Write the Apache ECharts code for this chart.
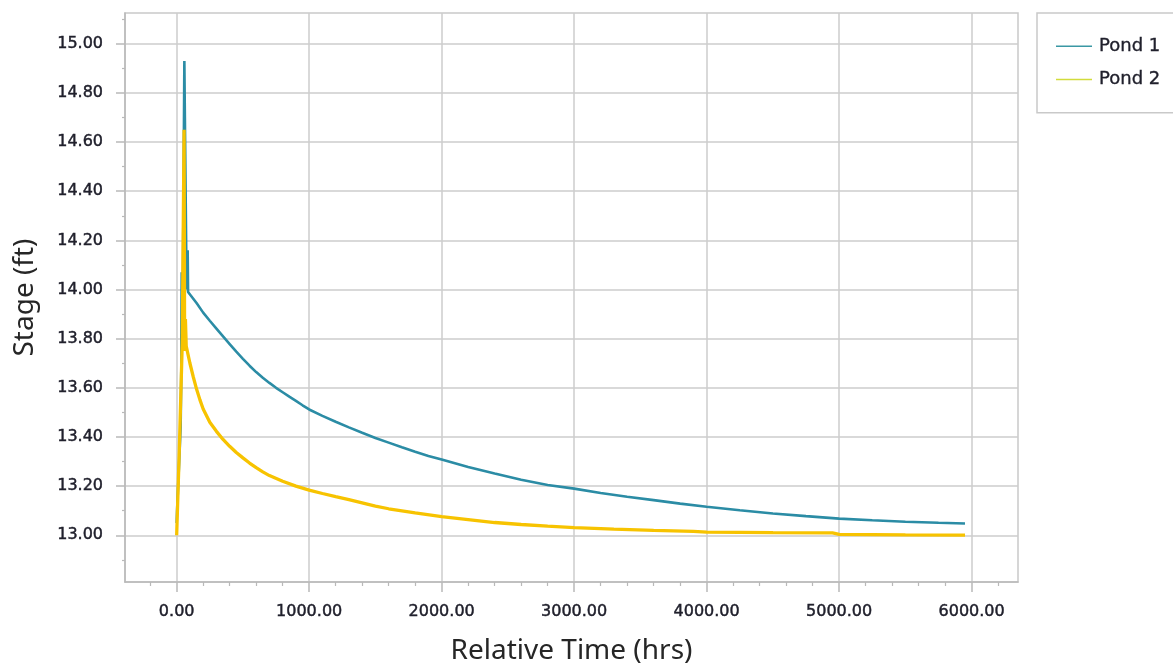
<!DOCTYPE html>
<html>
<head>
<meta charset="utf-8">
<title>Stage vs Relative Time</title>
<script src="https://cdn.jsdelivr.net/npm/echarts@6/dist/echarts.min.js"></script>
<style>
  html, body { margin: 0; padding: 0; background: #ffffff; }
  #chart { width: 1173px; height: 664px; }
</style>
</head>
<body>
<div id="chart"></div>
<script>
// Pond stage hydrographs (ft) over relative time (hrs)
const pond1Hours = [0, 3, 30, 36, 35, 38, 45, 58, 62, 75, 83, 86,
  100, 150, 200, 250, 300, 350, 400, 450, 500, 550, 600, 650, 700, 750, 800, 850, 900, 950, 1000,
  1100, 1200, 1300, 1400, 1500, 1600, 1700, 1800, 1900, 2000, 2200, 2400, 2600, 2800, 3000,
  3200, 3400, 3600, 3800, 4000, 4250, 4500, 4750, 5000, 5250, 5500, 5750, 5950];
const pond1Stage = [13.05, 13.10, 13.44, 13.73, 13.80, 14.07, 13.85, 14.93, 14.70, 14.00, 14.16, 13.99,
  13.983, 13.945, 13.906, 13.873, 13.841, 13.809, 13.778, 13.747, 13.718, 13.690, 13.664, 13.641, 13.620, 13.600, 13.582, 13.564, 13.547, 13.529, 13.512,
  13.486, 13.462, 13.439, 13.417, 13.396, 13.377, 13.358, 13.340, 13.323, 13.308, 13.278, 13.251, 13.226, 13.205, 13.190,
  13.172, 13.157, 13.143, 13.129, 13.116, 13.102, 13.089, 13.078, 13.068, 13.061, 13.055, 13.051, 13.048];

const pond2Hours = [0, 20, 42, 56, 60, 66, 72,
  100, 125, 150, 175, 200, 250, 300, 350, 400, 450, 500, 550, 600, 650, 700, 800, 900, 1000,
  1100, 1200, 1300, 1400, 1500, 1600, 1800, 2000, 2200, 2400, 2600, 2800, 3000, 3300, 3600, 3900,
  4000, 4500, 4950, 5000, 5500, 5950];
const pond2Stage = [13.00, 13.35, 13.78, 14.65, 13.75, 13.88, 13.77,
  13.700, 13.645, 13.595, 13.552, 13.514, 13.460, 13.423, 13.390, 13.362, 13.337, 13.315, 13.294, 13.275, 13.258, 13.243, 13.220, 13.200, 13.184,
  13.170, 13.157, 13.145, 13.132, 13.119, 13.108, 13.091, 13.076, 13.064, 13.052, 13.044, 13.037, 13.031, 13.025, 13.020, 13.016,
  13.013, 13.011, 13.010, 13.004, 13.002, 13.001];

const seriesNames = ['Pond 1', 'Pond 2'];

// Axis tick values
const xTicks = [0, 1000, 2000, 3000, 4000, 5000, 6000];
const yTicks = [13.0, 13.2, 13.4, 13.6, 13.8, 14.0, 14.2, 14.4, 14.6, 14.8, 15.0];

const xRange = [-390, 6350];
const yRange = [12.81, 15.125];

// Minor tick positions: 4 subdivisions on x, one midpoint on y
const xMinor = [];
for (let i = -1; i < xTicks.length; i++) {
  const base = i < 0 ? -1000 : xTicks[i];
  for (let k = 1; k < 5; k++) {
    const v = base + k * 200;
    if (v > xRange[0] && v < xRange[1]) xMinor.push(v);
  }
}
const yMinor = [];
for (let i = -1; i < yTicks.length; i++) {
  const v = (i < 0 ? 12.8 : yTicks[i]) + 0.1;
  if (v > yRange[0] && v < yRange[1]) yMinor.push(+v.toFixed(2));
}

const zip = (a, b) => a.map((x, i) => [x, b[i]]);

const labelFont = 'DejaVu Sans';
const titleFont = 'Noto Sans';
const labelColor = '#20202c';
const gridGray = '#cdcdcd';
const axisGray = '#b9b9b9';

// Tick and legend text, drawn slightly heavy
const tickText = {
  fontFamily: labelFont, fontSize: 16, color: labelColor,
  textBorderColor: labelColor, textBorderWidth: 0.45
};

const chart = echarts.init(document.getElementById('chart'), null, { renderer: 'canvas' });

chart.setOption({
  animation: false,
  backgroundColor: '#ffffff',
  grid: {
    left: 125, right: 155, top: 13, bottom: 82,
    show: true, borderColor: '#c9c9c9', borderWidth: 1.5,
    containLabel: false,
    outerBoundsMode: 'none'
  },
  legend: {
    orient: 'vertical',
    left: 1037, top: 13,
    padding: [24, 40, 24, 19],
    icon: 'rect',
    itemWidth: 36, itemHeight: 1.6, itemGap: 15,
    backgroundColor: '#ffffff',
    borderColor: '#c9c9c9', borderWidth: 1.5, borderRadius: 0,
    textStyle: {
      fontFamily: labelFont, fontSize: 18, color: labelColor, padding: [0, 0, 0, 2],
      textBorderColor: labelColor, textBorderWidth: 0.35
    },
    data: [
      { name: seriesNames[0], itemStyle: { color: '#3a98a4' } },
      { name: seriesNames[1], itemStyle: { color: '#d2dc3c' } }
    ]
  },
  xAxis: [
    {
      type: 'value', min: xRange[0], max: xRange[1], position: 'bottom',
      name: 'Relative Time (hrs)', nameLocation: 'middle', nameGap: 55,
      nameTextStyle: { fontFamily: titleFont, fontSize: 28, color: '#262626' },
      axisLine: { onZero: false, lineStyle: { color: axisGray, width: 1.5 } },
      axisTick: { customValues: xTicks, length: 10, lineStyle: { color: axisGray, width: 1.5 } },
      axisLabel: Object.assign({ customValues: xTicks, margin: 22, formatter: v => v.toFixed(2) }, tickText),
      splitLine: { show: true, lineStyle: { color: gridGray, width: 1.5 } }
    },
    {
      type: 'value', min: xRange[0], max: xRange[1], position: 'bottom',
      axisLine: { show: false, onZero: false },
      axisTick: { customValues: xMinor, length: 4, lineStyle: { color: axisGray, width: 1.2 } },
      axisLabel: { show: false },
      splitLine: { show: false }
    }
  ],
  yAxis: [
    {
      type: 'value', min: yRange[0], max: yRange[1], position: 'left',
      name: 'Stage (ft)', nameLocation: 'middle', nameGap: 86, nameRotate: 90,
      nameTextStyle: { fontFamily: titleFont, fontSize: 28, color: '#262626' },
      axisLine: { show: true, onZero: false, lineStyle: { color: axisGray, width: 1.5 } },
      axisTick: { show: true, customValues: yTicks, length: 9, lineStyle: { color: axisGray, width: 1.5 } },
      axisLabel: Object.assign({ customValues: yTicks, margin: 22, formatter: v => v.toFixed(2) }, tickText),
      splitLine: { show: true, lineStyle: { color: gridGray, width: 1.5 } }
    },
    {
      type: 'value', min: yRange[0], max: yRange[1], position: 'left',
      axisLine: { show: false, onZero: false },
      axisTick: { show: true, customValues: yMinor, length: 3, lineStyle: { color: axisGray, width: 1.2 } },
      axisLabel: { show: false },
      splitLine: { show: false }
    }
  ],
  series: [
    {
      name: seriesNames[0], type: 'line', xAxisIndex: 0, yAxisIndex: 0,
      data: zip(pond1Hours, pond1Stage),
      symbol: 'none', smooth: false,
      lineStyle: { color: '#2b8ca5', width: 2.6 },
      itemStyle: { color: '#2b8ca5' },
      z: 2
    },
    {
      name: seriesNames[1], type: 'line', xAxisIndex: 0, yAxisIndex: 0,
      data: zip(pond2Hours, pond2Stage),
      symbol: 'none', smooth: false,
      lineStyle: { color: '#f7c300', width: 3.3 },
      itemStyle: { color: '#f7c300' },
      z: 3
    }
  ]
});
</script>
</body>
</html>
